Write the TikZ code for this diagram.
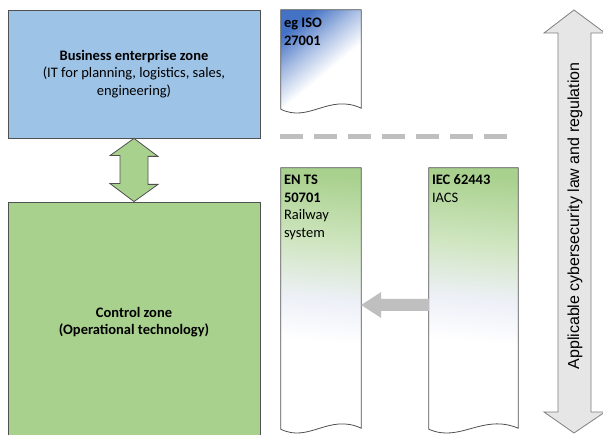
\documentclass[tikz,border=0pt]{standalone}
\usepackage{fontspec}
\setmainfont{Carlito}
\newfontfamily\arialf{Liberation Sans}
\usetikzlibrary{calc}
\definecolor{bizblue}{HTML}{9DC3E6}
\definecolor{ctrlgreen}{HTML}{A9D18E}
\definecolor{isoblue}{HTML}{4472C4}
\definecolor{docgreen}{HTML}{A9D18E}
\definecolor{lav}{HTML}{EEF0F8}
\definecolor{bordergray}{HTML}{505050}
\definecolor{dashgray}{HTML}{BFBFBF}
\definecolor{lawfill}{HTML}{E7E6E6}
\definecolor{lawborder}{HTML}{7F7F7F}
\pgfdeclareverticalshading{isograd}{100bp}{color(0bp)=(white); color(46bp)=(white); color(60bp)=(isoblue!45); color(75bp)=(isoblue); color(100bp)=(isoblue)}
\pgfdeclareverticalshading{greengrad}{100bp}{color(0bp)=(white); color(43bp)=(white); color(51bp)=(lav); color(62bp)=(docgreen!55); color(75bp)=(docgreen); color(100bp)=(docgreen)}
\newcommand{\docshp}[3]{%
  \shadedraw[shading=#2, shading angle=#3, draw=bordergray, line width=0.8pt]
    (#1.north west) -- (#1.north east) -- ($(#1.south east)+(0,-1)$)
    .. controls ($(#1.south west)!0.6!(#1.south east)+(0,-16)$) and ($(#1.south west)!0.35!(#1.south east)+(0,14)$) .. (#1.south west) -- cycle;}
\tikzset{
  zone/.style={draw=bordergray, line width=0.8pt, minimum width=252pt, align=center, font=\fontsize{14.5}{17.5}\selectfont, inner sep=0pt},
  docnode/.style={inner sep=0pt, minimum width=#1},
  doctext/.style={anchor=north west, inner sep=0pt, align=left, font=\fontsize{14.5}{17.7}\selectfont},
  greenarrow/.style={fill=ctrlgreen, draw=bordergray, line width=0.8pt, line join=miter},
  grayarrow/.style={fill=dashgray},
  lawarrow/.style={fill=lawfill, draw=lawborder, line width=0.8pt},
}
\begin{document}
\begin{tikzpicture}[x=1pt, y=-1pt]
\useasboundingbox (0,0) rectangle (603,435);
\clip (0,0) rectangle (603,435);
\fill[white] (0,0) rectangle (603,435);
% zones
\node[zone, fill=bizblue, minimum height=128pt] (biz) at (134,74)
  {\textbf{Business enterprise zone}\\(IT for planning, logistics, sales,\\engineering)};
\node[zone, fill=ctrlgreen, minimum height=240pt] (ctrl) at (134,322)
  {\textbf{Control zone}\\\textbf{(Operational technology)}};
% double arrow between zones
\draw[greenarrow] (biz.south) -- ++(24,18) -- ++(-10,0) -- ++(0,28) -- ++(10,0) -- (ctrl.north)
  -- ++(-24,-18) -- ++(10,0) -- ++(0,-28) -- ++(-10,0) -- cycle;
% dashed separator
\coordinate (dashL) at (280,137);
\coordinate (dashR) at (516,137);
\draw[dashgray, line width=5pt, dash pattern=on 23pt off 11pt] (dashL) -- (dashR);
% documents
\node[docnode=80pt, minimum height=99pt] (iso) at (321,59.5) {};
\node[docnode=80pt, minimum height=261pt] (ents) at (321,298.5) {};
\node[docnode=89pt, minimum height=261pt] (iec) at (473.5,298.5) {};
\docshp{iso}{isograd}{40}
\docshp{ents}{greengrad}{-5}
\docshp{iec}{greengrad}{-5}
\node[doctext] (isot) at ($(iso.north west)+(3,8)$) {\textbf{eg ISO}\\\textbf{27001}};
\node[doctext] (entst) at ($(ents.north west)+(3,7)$) {\textbf{EN TS}\\\textbf{50701}\\Railway\\system};
\node[doctext] (iect) at ($(iec.north west)+(3,7)$) {\textbf{IEC 62443}\\IACS};
% gray arrow IEC -> EN TS
\coordinate (tip) at ($(ents.east)+(0,6.5)$);
\fill[grayarrow] (tip) -- ++(20,-13) -- ++(0,7) -- ($(iec.west)+(0,0.5)$) -- ($(iec.west)+(0,12.5)$)
  -- ($(tip)+(20,6)$) -- ++(0,7) -- cycle;
% law arrow
\draw[lawarrow] (574,10) -- (605,33) -- (591,33) -- (591,412) -- (605,412) -- (574,433)
  -- (544,412) -- (558,412) -- (558,33) -- (544,33) -- cycle;
\node[rotate=90, font=\arialf\fontsize{16}{18}\selectfont, inner sep=0pt] (law) at (575,216)
  {Applicable cybersecurity law and regulation};
\end{tikzpicture}
\end{document}
